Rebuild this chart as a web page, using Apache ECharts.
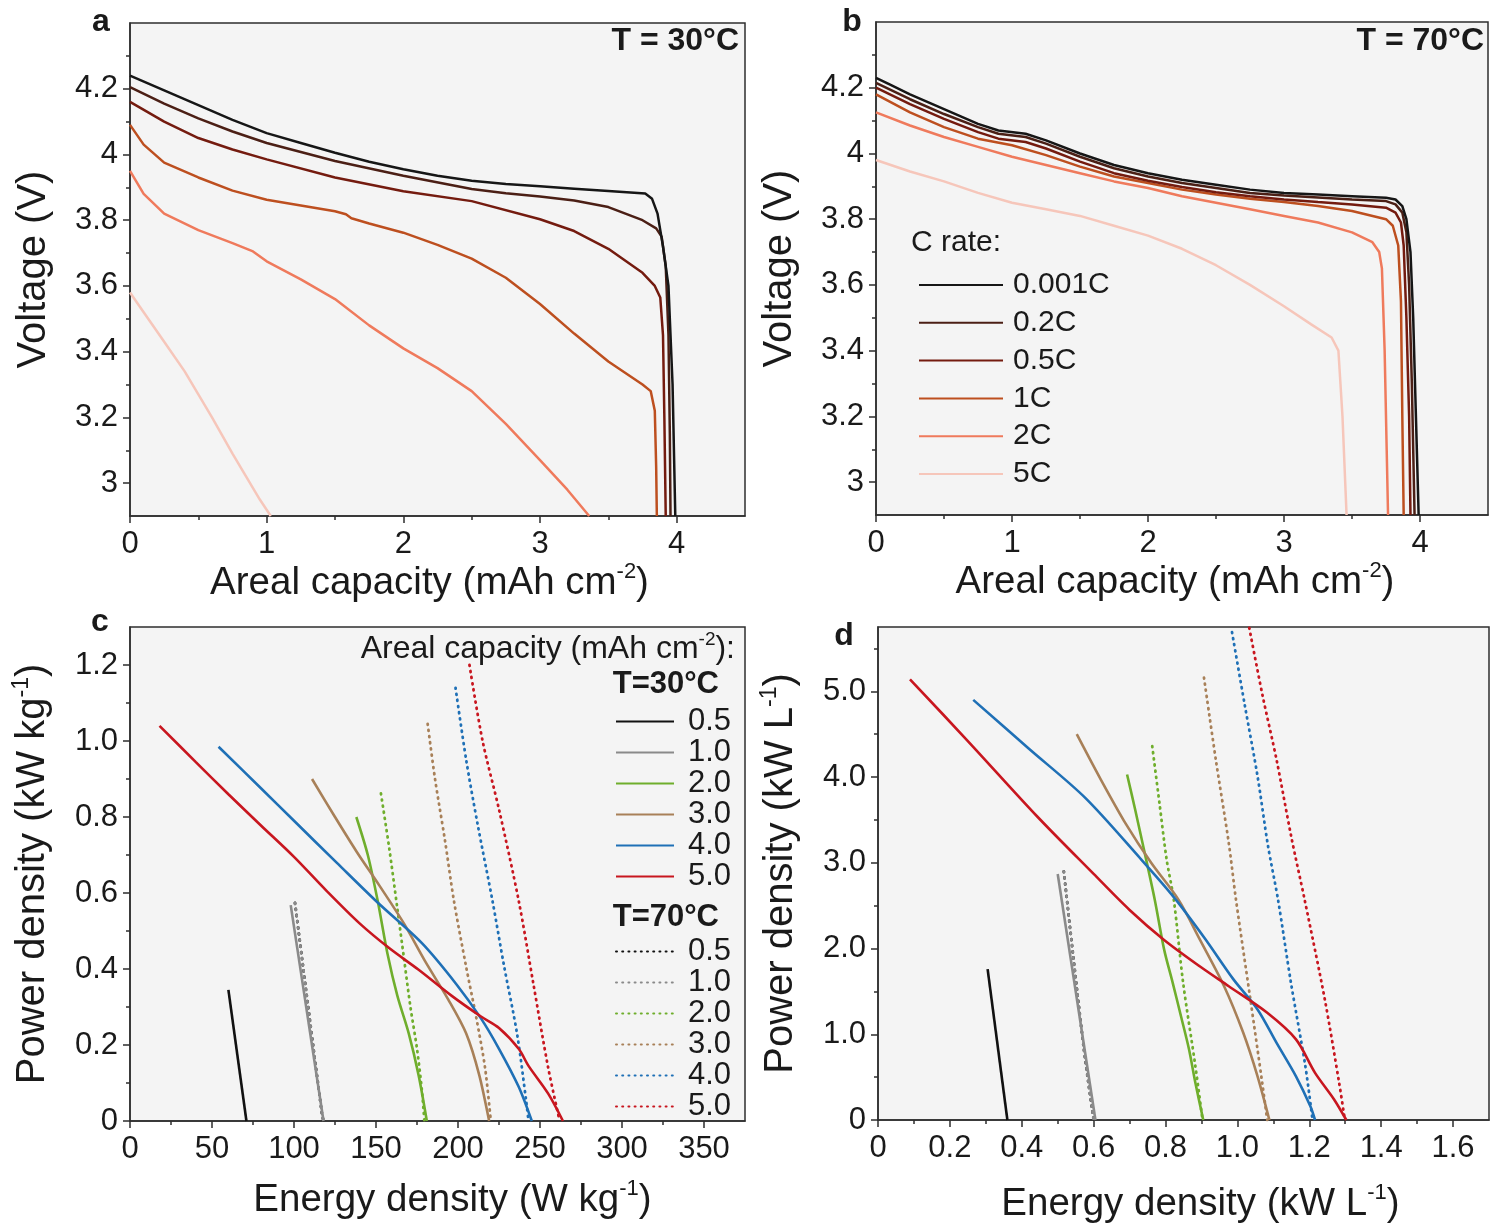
<!DOCTYPE html>
<html><head><meta charset="utf-8">
<script src="https://cdn.jsdelivr.net/npm/echarts@6/dist/echarts.min.js"></script>
<style>html,body{margin:0;padding:0;background:#fff}#c{width:1503px;height:1226px}</style>
</head><body><div id="c"></div>
<script>
// ---------- Panel a (T = 30°C): [areal capacity, voltage] ----------
const a_0001C = [[0,4.24],[0.25,4.195],[0.5,4.15],[0.75,4.105],[1,4.065],[1.25,4.035],[1.5,4.005],[1.75,3.978],[2,3.955],[2.25,3.935],[2.5,3.92],[2.75,3.91],[3,3.903],[3.25,3.896],[3.5,3.889],[3.77,3.881],[3.82,3.865],[3.86,3.82],[3.9,3.72],[3.94,3.6],[3.97,3.3],[3.99,2.9]];
const a_02C = [[0,4.205],[0.25,4.155],[0.5,4.11],[0.75,4.07],[1,4.035],[1.5,3.98],[2,3.935],[2.5,3.895],[2.75,3.882],[3,3.872],[3.25,3.86],[3.5,3.84],[3.75,3.8],[3.85,3.775],[3.89,3.75],[3.92,3.66],[3.94,3.45],[3.95,3.15],[3.955,2.9]];
const a_05C = [[0,4.16],[0.25,4.1],[0.5,4.05],[0.75,4.015],[1,3.985],[1.5,3.93],[2,3.888],[2.5,3.858],[3,3.803],[3.25,3.767],[3.5,3.713],[3.75,3.64],[3.84,3.6],[3.88,3.565],[3.9,3.45],[3.91,3.2],[3.92,2.9]];
const a_1C = [[0,4.09],[0.1,4.03],[0.25,3.975],[0.5,3.93],[0.75,3.89],[1,3.862],[1.25,3.845],[1.5,3.827],[1.58,3.818],[1.62,3.806],[1.75,3.79],[2,3.762],[2.25,3.725],[2.5,3.683],[2.75,3.625],[3,3.545],[3.25,3.455],[3.5,3.37],[3.75,3.3],[3.81,3.28],[3.84,3.22],[3.85,3.05],[3.855,2.9]];
const a_2C = [[0,3.95],[0.1,3.88],[0.25,3.82],[0.5,3.77],[0.75,3.73],[0.9,3.705],[1,3.675],[1.25,3.62],[1.5,3.56],[1.75,3.48],[2,3.41],[2.25,3.35],[2.5,3.28],[2.75,3.18],[3,3.07],[3.2,2.98],[3.36,2.9]];
const a_5C = [[0,3.58],[0.1,3.52],[0.25,3.43],[0.4,3.34],[0.5,3.27],[0.6,3.2],[0.75,3.09],[0.85,3.02],[0.95,2.95],[1.03,2.9]];

// ---------- Panel b (T = 70°C) ----------
const b_0001C = [[0,4.23],[0.1,4.21],[0.25,4.18],[0.5,4.135],[0.75,4.09],[0.9,4.07],[1.1,4.06],[1.25,4.04],[1.5,4.0],[1.75,3.965],[2,3.94],[2.25,3.92],[2.5,3.905],[2.75,3.89],[3,3.88],[3.25,3.875],[3.5,3.87],[3.75,3.865],[3.82,3.86],[3.87,3.84],[3.9,3.8],[3.93,3.7],[3.95,3.5],[3.97,3.2],[3.99,2.9]];
const b_02C = [[0,4.215],[0.25,4.165],[0.5,4.12],[0.75,4.08],[0.9,4.06],[1.1,4.05],[1.25,4.03],[1.5,3.99],[1.75,3.955],[2,3.93],[2.25,3.91],[2.5,3.895],[2.75,3.88],[3,3.872],[3.25,3.866],[3.5,3.86],[3.75,3.855],[3.82,3.845],[3.87,3.82],[3.9,3.76],[3.92,3.6],[3.94,3.3],[3.96,2.9]];
const b_05C = [[0,4.2],[0.25,4.15],[0.5,4.105],[0.75,4.065],[0.9,4.045],[1.1,4.035],[1.25,4.015],[1.5,3.975],[1.75,3.94],[2,3.917],[2.25,3.898],[2.5,3.882],[2.75,3.87],[3,3.86],[3.25,3.852],[3.5,3.845],[3.75,3.835],[3.82,3.82],[3.86,3.79],[3.88,3.72],[3.9,3.5],[3.92,3.2],[3.93,2.9]];
const b_1C = [[0,4.18],[0.25,4.125],[0.5,4.08],[0.75,4.045],[1,4.025],[1.25,3.995],[1.5,3.96],[1.75,3.93],[2,3.91],[2.25,3.89],[2.5,3.875],[2.75,3.862],[3,3.852],[3.25,3.84],[3.5,3.825],[3.75,3.8],[3.8,3.78],[3.84,3.72],[3.86,3.55],[3.87,3.2],[3.88,2.9]];
const b_2C = [[0,4.125],[0.25,4.085],[0.5,4.05],[0.75,4.02],[1,3.99],[1.25,3.965],[1.5,3.94],[1.75,3.915],[2,3.895],[2.25,3.87],[2.5,3.85],[2.75,3.83],[3,3.81],[3.25,3.79],[3.5,3.76],[3.65,3.73],[3.7,3.7],[3.72,3.65],[3.74,3.4],[3.755,3.1],[3.765,2.9]];
const b_5C = [[0,3.98],[0.25,3.945],[0.5,3.915],[0.75,3.88],[1,3.85],[1.25,3.83],[1.5,3.81],[1.75,3.78],[2,3.75],[2.25,3.71],[2.5,3.66],[2.75,3.6],[3,3.535],[3.2,3.48],[3.35,3.44],[3.4,3.4],[3.43,3.2],[3.45,3.0],[3.46,2.9]];

const cRateNames = ['0.001C','0.2C','0.5C','1C','2C','5C'];
const cRateColors = ['#161616','#4b1f15','#741b0f','#bd4f1f','#ef7a5c','#f6c6ba'];

// ---------- Panel c: [energy density W/kg, power density kW/kg] ----------
const c30_05 = [[60,0.345],[71,0]];
const c30_10 = [[98,0.568],[118,0]];
const c30_20 = [[138,0.80],[145,0.70],[151,0.58],[157,0.44],[163,0.33],[170,0.23],[176,0.12],[181,0]];
const c30_30 = [[111,0.90],[125,0.80],[138,0.71],[152,0.62],[167,0.52],[180,0.42],[194,0.32],[205,0.23],[213,0.12],[219,0]];
const c30_40 = [[54,0.985],[80,0.875],[100,0.79],[126,0.68],[151,0.575],[178,0.468],[199,0.36],[214,0.27],[225,0.19],[237,0.09],[245,0]];
const c30_50 = [[18,1.04],[40,0.945],[60,0.86],[80,0.777],[100,0.695],[120,0.605],[140,0.52],[158,0.455],[176,0.398],[196,0.33],[214,0.275],[225,0.245],[237,0.19],[243,0.145],[255,0.072],[264,0]];
const c70_05 = [[100.6,0.574],[117,0.02],[118,0]];
const c70_10 = [[100.6,0.574],[117,0.02],[118,0]];
const c70_20 = [[153,0.862],[158,0.72],[163,0.56],[167,0.43],[171,0.30],[175,0.19],[178,0.08],[179.5,0]];
const c70_30 = [[181.5,1.045],[186,0.90],[192,0.74],[197.5,0.58],[205,0.405],[211,0.275],[216.5,0.14],[220,0]];
const c70_40 = [[198.5,1.14],[205,0.95],[212,0.78],[221,0.58],[228,0.41],[236,0.23],[241.5,0.055],[243,0]];
const c70_50 = [[207,1.2],[215,1.0],[225,0.82],[237,0.58],[246,0.36],[255,0.14],[262,0]];

// ---------- Panel d: [energy density kW/L, power density kW/L] ----------
const d30_05 = [[0.305,1.76],[0.36,0]];
const d30_10 = [[0.5,2.87],[0.605,0]];
const d30_20 = [[0.693,4.03],[0.715,3.63],[0.736,3.23],[0.77,2.57],[0.796,1.99],[0.82,1.6],[0.843,1.21],[0.865,0.83],[0.883,0.435],[0.905,0]];
const d30_30 = [[0.553,4.5],[0.62,3.97],[0.69,3.45],[0.76,3.0],[0.836,2.57],[0.896,2.1],[0.963,1.56],[1.016,1.02],[1.056,0.51],[1.089,0]];
const d30_40 = [[0.265,4.9],[0.42,4.33],[0.576,3.76],[0.73,3.05],[0.823,2.6],[0.909,2.12],[0.989,1.64],[1.056,1.29],[1.109,0.9],[1.163,0.51],[1.203,0.16],[1.216,0]];
const d30_50 = [[0.089,5.14],[0.25,4.42],[0.443,3.54],[0.6,2.87],[0.7,2.45],[0.796,2.1],[0.896,1.79],[0.976,1.56],[1.083,1.25],[1.163,0.94],[1.216,0.55],[1.269,0.24],[1.303,0]];
const d70_05 = [[0.517,2.9],[0.572,0.856],[0.6,0]];
const d70_10 = [[0.517,2.9],[0.572,0.856],[0.6,0]];
const d70_20 = [[0.763,4.36],[0.783,3.7],[0.803,3.04],[0.823,2.57],[0.849,1.6],[0.883,0.63],[0.903,0]];
const d70_30 = [[0.907,5.16],[0.94,4.2],[0.976,3.23],[0.996,2.57],[1.036,1.41],[1.069,0.435],[1.083,0]];
const d70_40 = [[0.985,5.69],[1.02,4.85],[1.056,4.01],[1.085,3.2],[1.113,2.57],[1.149,1.6],[1.189,0.63],[1.209,0]];
const d70_50 = [[1.033,5.74],[1.07,4.95],[1.109,4.2],[1.15,3.3],[1.187,2.57],[1.243,1.41],[1.283,0.435],[1.299,0]];

const capNames = ['0.5','1.0','2.0','3.0','4.0','5.0'];
const capColors = ['#111111','#8a8a8a','#6fae2c','#a88058','#1f70b6','#c8161f'];

// ---------- tick values ----------
const ticksA_x = [0,1,2,3,4], minorA_x = [0.5,1.5,2.5,3.5];
const ticksA_y = [3,3.2,3.4,3.6,3.8,4,4.2], minorA_y = [3.1,3.3,3.5,3.7,3.9,4.1,4.3];
const ticksC_x = [0,50,100,150,200,250,300,350], minorC_x = [25,75,125,175,225,275,325];
const ticksC_y = [0,0.2,0.4,0.6,0.8,1.0,1.2], minorC_y = [0.1,0.3,0.5,0.7,0.9,1.1];
const ticksD_x = [0,0.2,0.4,0.6,0.8,1.0,1.2,1.4,1.6], minorD_x = [0.1,0.3,0.5,0.7,0.9,1.1,1.3,1.5];
const ticksD_y = [0,1,2,3,4,5], minorD_y = [0.5,1.5,2.5,3.5,4.5,5.5];

// ---------- styling ----------
const F = '"Liberation Sans", Arial, sans-serif';
const INK = '#1a1a1a';
const AX = '#2e2e2e';
function richFor(size) {
  return {
    t: {fontFamily: F, fontSize: size, color: INK, lineHeight: size + 6},
    s: {fontFamily: F, fontSize: Math.round(size * 0.58), color: INK, verticalAlign: 'top', lineHeight: Math.round(size * 0.62)}
  };
}
const fmtA = v => String(Math.round(v * 10) / 10);
const fmt1 = v => (v === 0 ? '0' : v.toFixed(1));
const fmt0 = v => String(Math.round(v));

function axes(dim, grid, min, max, majors, minors, fmt, name, nameGap, namePad) {
  const lineStyle = {color: AX, width: 1.5};
  const size = dim === 'x' ? 38.5 : 40;
  const main = {
    type: 'value', gridIndex: grid, min: min, max: max,
    position: dim === 'x' ? 'bottom' : 'left',
    name: name, nameLocation: 'middle', nameGap: nameGap,
    nameTextStyle: {fontFamily: F, fontSize: size, color: INK, rich: richFor(size), padding: namePad || 0},
    axisLine: {show: true, onZero: false, lineStyle: lineStyle},
    axisTick: {show: true, customValues: majors, length: 7, lineStyle: lineStyle},
    axisLabel: {show: true, customValues: majors, formatter: fmt, fontFamily: F, fontSize: 31, color: INK, margin: dim === 'x' ? 13 : 12},
    splitLine: {show: false}
  };
  const minor = {
    type: 'value', gridIndex: grid, min: min, max: max,
    position: dim === 'x' ? 'bottom' : 'left',
    axisLine: {show: false, onZero: false},
    axisTick: {show: true, customValues: minors, length: 4, lineStyle: lineStyle},
    axisLabel: {show: false},
    splitLine: {show: false}
  };
  return [main, minor];
}

const gridStyle = {show: true, backgroundColor: '#f4f4f4', borderColor: AX, borderWidth: 1.5, containLabel: false};
const grids = [
  Object.assign({left: 130, top: 23, width: 615, height: 493}, gridStyle),
  Object.assign({left: 876, top: 22, width: 612, height: 493}, gridStyle),
  Object.assign({left: 130, top: 627, width: 615, height: 494}, gridStyle),
  Object.assign({left: 878, top: 627, width: 611, height: 493}, gridStyle)
];

const capLabel = '{t|Areal capacity (mAh cm}{s|-2}{t|)}';
const xAxes = [].concat(
  axes('x', 0, 0, 4.5, ticksA_x, minorA_x, fmtA, capLabel, 44, [0, 16, 0, 0]),
  axes('x', 1, 0, 4.5, ticksA_x, minorA_x, fmtA, capLabel, 44, [0, 14, 0, 0]),
  axes('x', 2, 0, 375, ticksC_x, minorC_x, fmt0, '{t|Energy density (W kg}{s|-1}{t|)}', 57, [0, 0, 0, 30]),
  axes('x', 3, 0, 1.7, ticksD_x, minorD_x, fmt1, '{t|Energy density (kW L}{s|-1}{t|)}', 62, [0, 0, 0, 34])
);
const yAxes = [].concat(
  axes('y', 0, 2.9, 4.4, ticksA_y, minorA_y, fmtA, '{t|Voltage (V)}', 73),
  axes('y', 1, 2.9, 4.4, ticksA_y, minorA_y, fmtA, '{t|Voltage (V)}', 73),
  axes('y', 2, 0, 1.3, ticksC_y, minorC_y, fmt1, '{t|Power density (kW kg}{s|-1}{t|)}', 74),
  axes('y', 3, 0, 5.75, ticksD_y, minorD_y, fmt1, '{t|Power density (kW L}{s|-1}{t|)}', 74)
);

function line(name, data, grid, color, dotted, width, z, smooth) {
  return {
    type: 'line', name: name, data: data, xAxisIndex: grid * 2, yAxisIndex: grid * 2,
    symbol: 'none', smooth: smooth || false, clip: true, z: z || 2,
    lineStyle: dotted ? {color: color, width: 2.8, type: [1, 5.2], cap: 'round'} : {color: color, width: width || 2.6},
    itemStyle: {color: color},
    emphasis: {disabled: true}
  };
}

const aSets = [a_0001C, a_02C, a_05C, a_1C, a_2C, a_5C];
const bSets = [b_0001C, b_02C, b_05C, b_1C, b_2C, b_5C];
const c30 = [c30_05, c30_10, c30_20, c30_30, c30_40, c30_50];
const c70 = [c70_05, c70_10, c70_20, c70_30, c70_40, c70_50];
const d30 = [d30_05, d30_10, d30_20, d30_30, d30_40, d30_50];
const d70 = [d70_05, d70_10, d70_20, d70_30, d70_40, d70_50];

const series = [];
for (let i = 5; i >= 0; i--) series.push(line(cRateNames[i], aSets[i], 0, cRateColors[i], false, 2.5, 2 + (5 - i)));
for (let i = 5; i >= 0; i--) series.push(line(cRateNames[i], bSets[i], 1, cRateColors[i], false, 2.5, 2 + (5 - i)));
for (let i = 0; i < 6; i++) series.push(line('S|' + capNames[i], c30[i], 2, capColors[i], false, 2.6, 3, 0.3));
for (let i = 0; i < 6; i++) series.push(line('D|' + capNames[i], c70[i], 2, capColors[i], true, 0, 2, 0.3));
for (let i = 0; i < 6; i++) series.push(line('S|' + capNames[i], d30[i], 3, capColors[i], false, 2.6, 3, 0.3));
for (let i = 0; i < 6; i++) series.push(line('D|' + capNames[i], d70[i], 3, capColors[i], true, 0, 2, 0.3));

const hideSym = {opacity: 0, color: 'rgba(0,0,0,0)', borderColor: 'rgba(0,0,0,0)', borderWidth: 0};
const legends = [
  {data: cRateNames, left: 913, top: 265, orient: 'vertical', itemWidth: 84, itemHeight: 12, itemGap: 7.8,
   selectedMode: false, itemStyle: hideSym,
   textStyle: {fontFamily: F, fontSize: 30, color: INK, lineHeight: 30, padding: [0, 0, 0, 5]}},
  {data: capNames.map(n => 'S|' + n), left: 610, top: 701, orient: 'vertical', itemWidth: 58, itemHeight: 12, itemGap: 0,
   selectedMode: false, itemStyle: hideSym, formatter: n => n.split('|')[1],
   textStyle: {fontFamily: F, fontSize: 31, color: INK, lineHeight: 30.7, padding: [0, 0, 0, 9]}},
  {data: capNames.map(n => 'D|' + n), left: 610, top: 931, orient: 'vertical', itemWidth: 58, itemHeight: 12, itemGap: 0,
   selectedMode: false, itemStyle: hideSym, formatter: n => n.split('|')[1],
   textStyle: {fontFamily: F, fontSize: 31, color: INK, lineHeight: 31, padding: [0, 0, 0, 9]}}
];

function txt(x, y, text, font, align, extra) {
  return {type: 'text', x: x, y: y, z: 100,
    style: Object.assign({text: text, font: font, fill: INK, align: align || 'left', verticalAlign: 'middle'}, extra || {})};
}
const BOLD = 'bold 32px ' + F;
const graphics = [
  txt(101, 22, 'a', BOLD, 'center'),
  txt(852, 22, 'b', BOLD, 'center'),
  txt(100, 622, 'c', BOLD, 'center'),
  txt(844, 636, 'd', BOLD, 'center'),
  txt(739, 41, 'T = 30°C', BOLD, 'right'),
  txt(1484, 41, 'T = 70°C', BOLD, 'right'),
  txt(911, 243, 'C rate:', '30px ' + F, 'left'),
  txt(735, 649, '{t|Areal capacity (mAh cm}{s|-2}{t|):}', '32px ' + F, 'right', {rich: {
    t: {fontFamily: F, fontSize: 32, fill: INK, lineHeight: 38},
    s: {fontFamily: F, fontSize: 19, fill: INK, verticalAlign: 'top', lineHeight: 21}}}),
  txt(719, 684, 'T=30°C', 'bold 31px ' + F, 'right'),
  txt(719, 917, 'T=70°C', 'bold 31px ' + F, 'right')
];

const chart = echarts.init(document.getElementById('c'), null, {renderer: 'canvas'});
chart.setOption({
  animation: false,
  backgroundColor: '#ffffff',
  grid: grids,
  xAxis: xAxes,
  yAxis: yAxes,
  legend: legends,
  series: series,
  graphic: graphics
});
</script>
</body></html>
